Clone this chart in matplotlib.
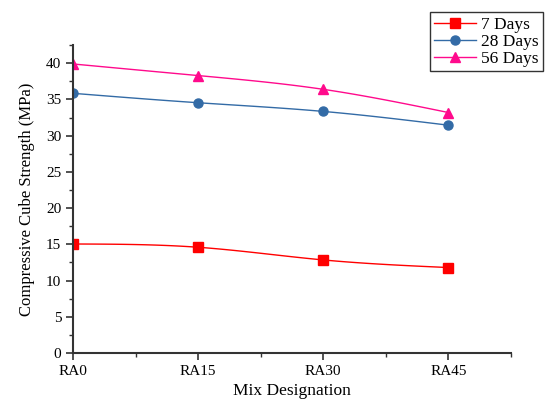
import matplotlib
matplotlib.use("Agg")
import matplotlib.pyplot as plt
import numpy as np
from matplotlib.ticker import MultipleLocator

mixes = ["RA0", "RA15", "RA30", "RA45"]
days7 = [15.05, 14.6, 12.85, 11.8]
days28 = [35.85, 34.55, 33.35, 31.45]
days56 = [39.9, 38.3, 36.4, 33.2]


def smooth(y, n=40):
    # natural cubic spline through the points, for drawing the line only
    y = np.asarray(y, dtype=float)
    k = len(y)
    A = np.zeros((k, k))
    r = np.zeros(k)
    A[0, 0] = A[-1, -1] = 1
    for i in range(1, k - 1):
        A[i, i - 1], A[i, i], A[i, i + 1] = 1, 4, 1
        r[i] = 6 * (y[i + 1] - 2 * y[i] + y[i - 1])
    m = np.linalg.solve(A, r)
    xs, ys = [], []
    for i in range(k - 1):
        t = np.linspace(0, 1, n)
        seg = ((1 - t) * y[i] + t * y[i + 1]
               + ((1 - t) ** 3 - (1 - t)) * m[i] / 6
               + (t ** 3 - t) * m[i + 1] / 6)
        xs.append(i + t)
        ys.append(seg)
    return np.concatenate(xs), np.concatenate(ys)


plt.rcParams['font.family'] = ['Liberation Serif', 'DejaVu Serif']

fig = plt.figure(figsize=(5.47, 4.03), dpi=100)
ax = fig.add_axes([0.1335, 0.124, 0.8005, 0.764])

x = np.arange(len(mixes))
series = [(days7, "#FF0000", "s", "7 Days"),
          (days28, "#336BA6", "o", "28 Days"),
          (days56, "#FF0A8C", "^", "56 Days")]
handles = []
for vals, col, mk, lab in series:
    sx, sy = smooth(vals)
    ax.plot(sx, sy, color=col, lw=1.0)
    ax.plot(x, vals, ls="none", marker=mk, color=col, ms=6.5)
    h, = ax.plot([], [], color=col, lw=1.0, marker=mk, ms=6.5, label=lab)
    handles.append(h)

ax.set_xlim(0, 3.5)
ax.set_ylim(0, 42.5)
ax.set_xticks(x)
ax.set_xticklabels(mixes)
ax.xaxis.set_minor_locator(MultipleLocator(0.5))
ax.yaxis.set_major_locator(MultipleLocator(5))
ax.yaxis.set_minor_locator(MultipleLocator(2.5))

for s in ["top", "right"]:
    ax.spines[s].set_visible(False)
for s in ["left", "bottom"]:
    ax.spines[s].set_color("#333333")
    ax.spines[s].set_linewidth(1.5)
ax.tick_params(which="major", length=5, width=1.2, color="#333333", labelsize=11)
ax.tick_params(which="minor", length=3, width=1.0, color="#333333")

ax.set_xlabel("Mix Designation", fontsize=12.5)
ax.set_ylabel("Compressive Cube Strength (MPa)", fontsize=12, labelpad=8)

fig.legend(handles=handles, loc="upper right", bbox_to_anchor=(0.993, 0.970),
           fontsize=12.5, frameon=True, fancybox=False, edgecolor="black",
           handlelength=2.4, borderpad=0.25, labelspacing=0.05, handletextpad=0.3,
           borderaxespad=0)
leg = fig.legends[0]
leg.get_frame().set_linewidth(1.0)

fig.savefig("out.png", dpi=100)
